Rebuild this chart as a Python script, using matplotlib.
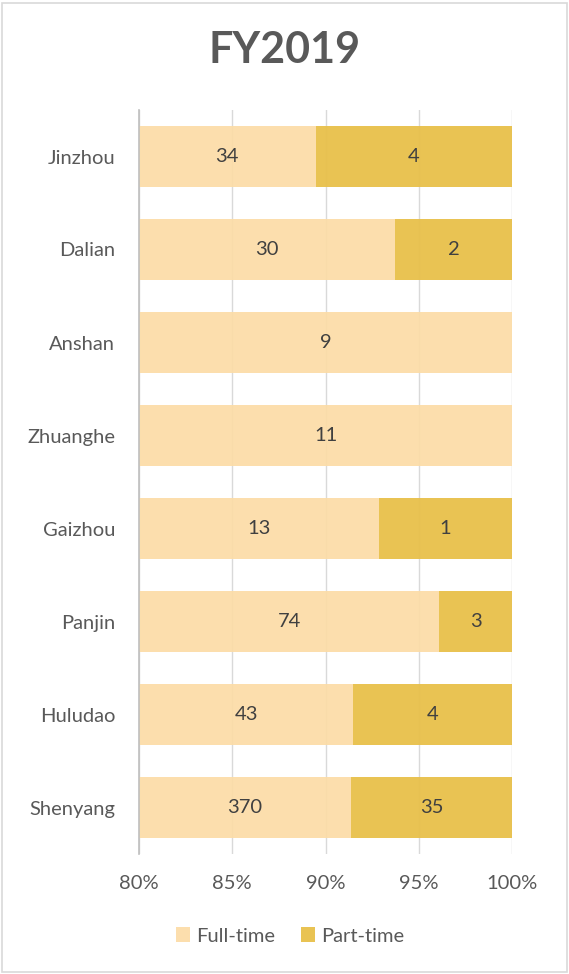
import matplotlib.pyplot as plt
from matplotlib.patches import Rectangle

cities = ['Jinzhou', 'Dalian', 'Anshan', 'Zhuanghe', 'Gaizhou', 'Panjin', 'Huludao', 'Shenyang']
full_time = [34, 30, 9, 11, 13, 74, 43, 370]
part_time = [4, 2, 0, 0, 1, 3, 4, 35]
ticks = [80, 85, 90, 95, 100]

c_full = '#FCDCA6'
c_part = '#E8C04A'
txt = '#404040'
fs = 14.5

plt.rcParams['font.family'] = ['Lato', 'DejaVu Sans']

fig = plt.figure(figsize=(5.69, 9.74), dpi=100)
ax = fig.add_axes([139 / 569, 1 - 854 / 974, 373 / 569, 744 / 974])

ypos = list(range(len(cities)))
full_pct = []
part_pct = []
for f, p in zip(full_time, part_time):
    total = f + p
    full_pct.append(f / total * 100)
    part_pct.append(p / total * 100)

ax.barh(ypos, full_pct, height=0.66, color=c_full, alpha=0.92, label='Full-time', zorder=2)
ax.barh(ypos, part_pct, left=full_pct, height=0.66, color=c_part, alpha=0.95, label='Part-time', zorder=2)

# data labels, centered on the visible part of each segment
for y, f, p, fp in zip(ypos, full_time, part_time, full_pct):
    ax.text((80 + fp) / 2, y, str(f), ha='center', va='center', fontsize=fs, color=txt, zorder=3)
    if p > 0:
        ax.text((fp + 100) / 2, y, str(p), ha='center', va='center', fontsize=fs, color=txt, zorder=3)

ax.set_xlim(80, 100)
ax.set_ylim(len(cities) - 0.5, -0.5)
ax.set_xticks(ticks)
ax.set_xticklabels([f'{t}%' for t in ticks], fontsize=fs, color='#595959')
ax.set_yticks(ypos)
ax.set_yticklabels(cities, fontsize=fs, color='#595959')
ax.tick_params(axis='x', length=0, pad=15)
ax.tick_params(axis='y', length=0, pad=17)
ax.grid(axis='x', color='#D9D9D9', linewidth=1, zorder=0)
for s in ['top', 'right', 'bottom']:
    ax.spines[s].set_visible(False)
ax.spines['left'].set_color('#BFBFBF')
ax.spines['left'].set_linewidth(1.2)

fig.text(0.5, 1 - 50 / 974, 'FY2019', ha='center', va='center', fontsize=31,
         fontweight='bold', color='#595959')

fig.legend(loc='center', bbox_to_anchor=(0.51, 1 - 936 / 974), ncol=2, frameon=False,
           fontsize=fs, handlelength=0.7, handleheight=0.7, columnspacing=1.3,
           handletextpad=0.3, labelcolor='#595959')

fig.patches.append(Rectangle((0.003, 0.002), 0.994, 0.995, transform=fig.transFigure,
                             fill=False, edgecolor='#D9D9D9', linewidth=1.2))

fig.savefig('out.png', dpi=100)
